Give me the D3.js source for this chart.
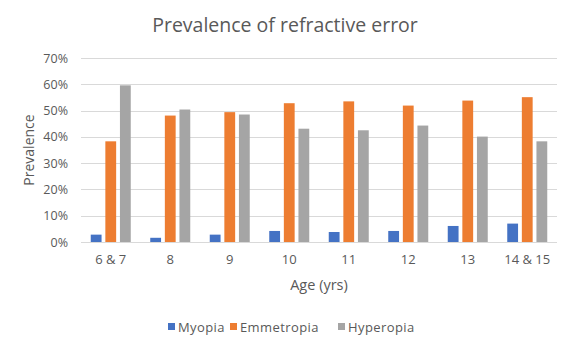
<!DOCTYPE html>
<html><head><meta charset="utf-8">
<script src="https://cdn.jsdelivr.net/npm/d3@7"></script>
<style>body{margin:0;background:#fff}svg{display:block}text{font-family:"Open Sans",sans-serif;fill:#595959}</style>
</head><body><svg id="c" width="575" height="350"></svg>
<script>
const categories = ["6 & 7","8","9","10","11","12","13","14 & 15"];
const seriesNames = ["Myopia","Emmetropia","Hyperopia"];
const myopia =     [2.8, 1.6, 2.8, 4.2, 3.8, 4.2, 6.1, 7.0];
const emmetropia = [38.3,48.1,49.4,52.8,53.5,51.9,53.8,55.1];
const hyperopia =  [59.6,50.4,48.5,43.1,42.5,44.3,40.1,38.3];
const yTicks = [0,10,20,30,40,50,60,70];
const colors = ["#4472C4","#ED7D31","#A5A5A5"];
const series = [myopia, emmetropia, hyperopia];

const svg = d3.select("#c");
const m = {l:81, r:557, t:58, b:242};
const x = d3.scaleBand().domain(categories).range([m.l, m.r]);
const xs = d3.scaleBand().domain(seriesNames).range([0, 40]).paddingInner(0.26);
const y = d3.scaleLinear().domain([0,70]).range([m.b, m.t]);

svg.append("text").attr("x",285).attr("y",32).attr("text-anchor","middle")
  .style("font-size","19.5px").text("Prevalence of refractive error");

// gridlines
svg.append("g").selectAll("line").data(yTicks).join("line")
  .attr("x1",m.l).attr("x2",m.r).attr("y1",d=>Math.round(y(d))+0.5).attr("y2",d=>Math.round(y(d))+0.5)
  .attr("stroke","#D9D9D9").attr("stroke-width",1);

// y axis labels
const ya = svg.append("g").attr("transform",`translate(${m.l},0)`)
  .call(d3.axisLeft(y).tickValues(yTicks).tickFormat(d=>d+"%").tickSize(0).tickPadding(13));
ya.select(".domain").remove();
ya.selectAll("text").style("font-size","12.5px").style("fill","#595959").style("font-family","Open Sans");

// bars
const g = svg.append("g");
categories.forEach((c,i)=>{
  series.forEach((s,j)=>{
    const x0 = x(c) + (x.bandwidth()-40)/2 + xs(seriesNames[j]);
    g.append("rect").attr("x",x0).attr("width",xs.bandwidth())
      .attr("y",y(s[i])).attr("height",y(0)-y(s[i])).attr("fill",colors[j]);
  });
});

// x axis labels
const xa = svg.append("g").attr("transform",`translate(0,${m.b})`)
  .call(d3.axisBottom(x).tickSize(0).tickPadding(13));
xa.select(".domain").remove();
xa.selectAll("text").style("font-size","13px").style("fill","#595959").style("font-family","Open Sans");

svg.append("text").attr("x",(m.l+m.r)/2).attr("y",290).attr("text-anchor","middle")
  .style("font-size","14.5px").text("Age (yrs)");
svg.append("text").attr("transform","translate(34,150) rotate(-90)").attr("text-anchor","middle")
  .style("font-size","14px").text("Prevalence");

// legend
const legX = [168, 230, 338];
const lg = svg.append("g");
seriesNames.forEach((n,j)=>{
  lg.append("rect").attr("x",legX[j]).attr("y",323).attr("width",7).attr("height",7).attr("fill",colors[j]);
  lg.append("text").attr("x",legX[j]+10).attr("y",331.5).style("font-size","13px")
    .style("letter-spacing","0.4px").text(n);
});
</script></body></html>
